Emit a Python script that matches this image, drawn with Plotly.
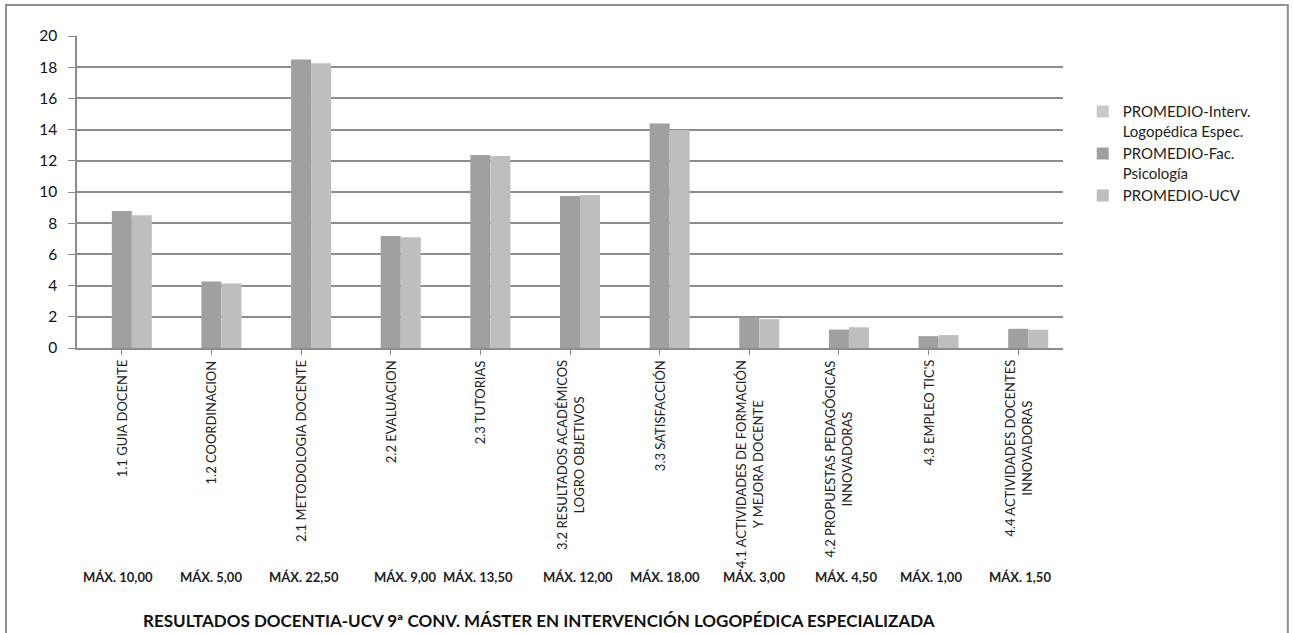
import plotly.graph_objects as go

categories = [
    "1.1 GUIA DOCENTE",
    "1.2 COORDINACION",
    "2.1 METODOLOGIA DOCENTE",
    "2.2 EVALUACION",
    "2.3 TUTORIAS",
    "3.2 RESULTADOS ACADÉMICOS<br>LOGRO OBJETIVOS",
    "3.3 SATISFACCIÓN",
    "4.1 ACTIVIDADES DE FORMACIÓN<br>Y MEJORA DOCENTE",
    "4.2 PROPUESTAS PEDAGÓGICAS<br>INNOVADORAS",
    "4.3 EMPLEO TIC'S",
    "4.4 ACTIVIDADES DOCENTES<br>INNOVADORAS",
]
max_labels = ["MÁX. 10,00", "MÁX. 5,00", "MÁX. 22,50", "MÁX. 9,00", "MÁX. 13,50",
              "MÁX. 12,00", "MÁX. 18,00", "MÁX. 3,00", "MÁX. 4,50", "MÁX. 1,00", "MÁX. 1,50"]

series_names = ["PROMEDIO-Interv.<br>Logopédica Espec.", "PROMEDIO-Fac.<br>Psicología", "PROMEDIO-UCV"]
interv = [None, None, None, None, None, None, None, None, None, None, None]
facultad = [8.78, 4.27, 18.49, 7.18, 12.37, 9.74, 14.39, 1.98, 1.18, 0.76, 1.23]
ucv = [8.51, 4.13, 18.25, 7.10, 12.31, 9.81, 13.97, 1.85, 1.33, 0.83, 1.17]

y_ticks = [0, 2, 4, 6, 8, 10, 12, 14, 16, 18, 20]
title_text = "RESULTADOS DOCENTIA-UCV 9ª CONV. MÁSTER EN INTERVENCIÓN LOGOPÉDICA ESPECIALIZADA"

colors = ["#c8c8c8", "#a0a0a0", "#bebebe"]
max_shifts = [-4, 0, 3, 14, -2, 8, 5, 5, 7, 2, 2]

FONT = "Lato"
x_idx = list(range(len(categories)))

fig = go.Figure()
for k, (name, vals, col) in enumerate(zip(series_names, [interv, facultad, ucv], colors)):
    fig.add_trace(go.Bar(x=x_idx, y=vals, name=name, legendgroup="g%d" % k,
                         marker=dict(color=col, line=dict(width=0))))

annotations = []
for i, lab in enumerate(categories):
    annotations.append(dict(x=i, y=0, xref="x", yref="y", text=lab, textangle=-90,
                            showarrow=False, xanchor="center", yanchor="top", yshift=-10,
                            align="center", font=dict(family=FONT, size=13, color="#222")))
for i, lab in enumerate(max_labels):
    annotations.append(dict(x=i, y=-0.734, xref="x", yref="paper", text="<b>" + lab + "</b>",
                            showarrow=False, xanchor="center", yanchor="middle", xshift=max_shifts[i],
                            font=dict(family=FONT, size=13, color="#222")))
annotations.append(dict(x=0.4686, y=-0.872, xref="paper", yref="paper", text="<b>" + title_text + "</b>",
                        showarrow=False, xanchor="center", yanchor="middle",
                        font=dict(family=FONT, size=17, color="#111")))

fig.update_layout(
    width=1293, height=633,
    margin=dict(l=77, r=230, t=36, b=285),
    paper_bgcolor="white", plot_bgcolor="white",
    barmode="group", bargap=0.33, bargroupgap=0,
    font=dict(family=FONT, color="#222"),
    legend=dict(x=1.02, y=0.81, xanchor="left", yanchor="top", valign="top",
                font=dict(family=FONT, size=15, color="#222"), tracegroupgap=8,
                traceorder="normal", itemwidth=30),
    xaxis=dict(tickmode="array", tickvals=x_idx, showticklabels=False, tickson="boundaries",
               ticks="outside", ticklen=5, tickcolor="#8c8c8c", showline=True, linecolor="#8c8c8c",
               linewidth=1.5, showgrid=False, zeroline=False, range=[-0.5, len(categories) - 0.5]),
    yaxis=dict(range=[0, 20], tickvals=y_ticks, ticks="outside", ticklen=7, tickcolor="#8c8c8c",
               showline=True, linecolor="#8c8c8c", linewidth=1.5, showgrid=True, gridcolor="#8c8c8c",
               gridwidth=1.5, zeroline=False, ticklabelstandoff=8,
               tickfont=dict(family=FONT, size=15.5, color="#111")),
    annotations=annotations,
    shapes=[dict(type="rect", xref="paper", yref="paper", x0=-0.072, x1=1.228, y0=-0.95, y1=1.0994,
                 line=dict(color="#909090", width=2), fillcolor="rgba(0,0,0,0)", layer="below")],
)

fig.write_html("out.html", config={"displayModeBar": False},
               post_script="document.body.style.margin='0';document.body.style.overflow='hidden';")
